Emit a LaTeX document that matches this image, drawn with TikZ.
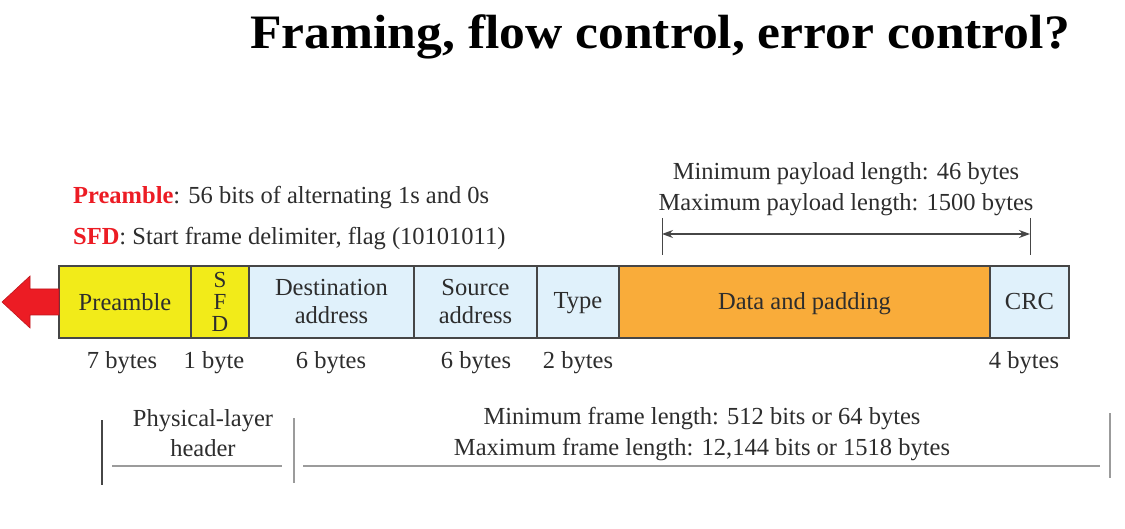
\documentclass[tikz,border=0pt]{standalone}
\usepackage{fontspec}
\setmainfont{Liberation Serif}
\usetikzlibrary{arrows.meta, positioning, calc}
\definecolor{fieldyellow}{RGB}{242,235,25}
\definecolor{fieldblue}{RGB}{224,241,251}
\definecolor{fieldorange}{RGB}{249,172,58}
\definecolor{arrowred}{RGB}{236,28,36}
\definecolor{edgegray}{RGB}{70,70,70}
\definecolor{rulegray}{RGB}{155,155,155}
\definecolor{textgray}{RGB}{45,45,45}

\tikzset{
  field/.style={draw=edgegray, line width=1.2pt, minimum height=72pt, inner sep=0pt, outer sep=0pt,
    font=\fontsize{24.5}{28}\selectfont, text=textgray, align=center},
  sizelabel/.style={font=\fontsize{24.5}{28}\selectfont, text=textgray},
  note/.style={font=\fontsize{24.5}{30.5}\selectfont, text=textgray, align=center, inner sep=0pt},
}

\begin{document}
\begin{tikzpicture}[x=1pt, y=-1pt]
  \useasboundingbox (0,0) rectangle (1125,529);

  % title
  \node[font=\fontsize{48}{54}\selectfont\bfseries] (title) at (660,37) {\scalebox{1.075}[1]{Framing, flow control, error control?}};

  % frame fields
  \node[field, fill=fieldyellow, minimum width=132pt] (pre) at (125,302) {Preamble};
  \node[field, fill=fieldyellow, minimum width=58pt, font=\fontsize{23}{22}\selectfont] (sfd) at (220,302) {S\\F\\D};
  \node[field, fill=fieldblue, minimum width=165pt] (dst) at (331.5,302) {Destination\\address};
  \node[field, fill=fieldblue, minimum width=123pt] (src) at (475.5,302) {Source\\address};
  \node[field, fill=fieldblue, minimum width=82pt, text depth=0.22em] (typ) at (578,302) {Type};
  \node[field, fill=fieldorange, minimum width=371pt, text depth=0.22em] (data) at (804.5,302) {Data and padding};
  \node[field, fill=fieldblue, minimum width=79pt, text depth=0.22em] (crc) at (1029.5,302) {CRC};

  % direction arrow
  \filldraw[fill=arrowred, draw=arrowred!80!black, line width=0.6pt]
    ($(pre.west)+(0,-13)$) -- ++(-29,0) -- ++(0,-13) -- ++(-28,26) -- ++(28,26) -- ++(0,-13) -- ++(29,0) -- cycle;

  % field sizes
  \node[sizelabel] (s1) at (122,363) {7 bytes};
  \node[sizelabel] (s2) at (214,363) {1 byte};
  \node[sizelabel] (s3) at (331,363) {6 bytes};
  \node[sizelabel] (s4) at (476,363) {6 bytes};
  \node[sizelabel] (s5) at (578,363) {2 bytes};
  \node[sizelabel] (s6) at (1024,363) {4 bytes};

  % notes
  \node[note, anchor=west] (n1) at (73,198) {\textcolor{arrowred}{\textbf{Preamble}}: 56 bits of alternating 1s and 0s};
  \node[note, anchor=west] (n2) at (73,239) {\textcolor{arrowred}{\textbf{SFD}}: Start frame delimiter, flag (10101011)};

  % payload length
  \node[note] (pay) at (846,189) {Minimum payload length: 46 bytes\\Maximum payload length: 1500 bytes};
  \coordinate (pl) at (662,234);
  \coordinate (pr) at (1030,234);
  \draw[edgegray, line width=1pt] ($(pl)+(0,-16)$) -- ($(pl)+(0,21)$);
  \draw[edgegray, line width=1pt] ($(pr)+(0,-16)$) -- ($(pr)+(0,21)$);
  \draw[{Stealth[length=11pt,width=8pt]}-{Stealth[length=11pt,width=8pt]}, edgegray, line width=1.2pt] (pl) -- (pr);

  % header / frame length
  \node[note] (phy) at (203,433) {Physical-layer\\header};
  \node[note] (frm) at (702,434) {Minimum frame length: 512 bits or 64 bytes\\Maximum frame length: 12,144 bits or 1518 bytes};
  \draw[edgegray, line width=1.6pt] (102,420) -- (102,485);
  \draw[rulegray, line width=1.6pt] (294,418) -- (294,483);
  \draw[rulegray, line width=1.6pt] (1110,413) -- (1110,478);
  \draw[rulegray, line width=1.6pt] (112,466) -- (282,466);
  \draw[rulegray, line width=1.6pt] (303,466) -- (1100,466);
\end{tikzpicture}
\end{document}
